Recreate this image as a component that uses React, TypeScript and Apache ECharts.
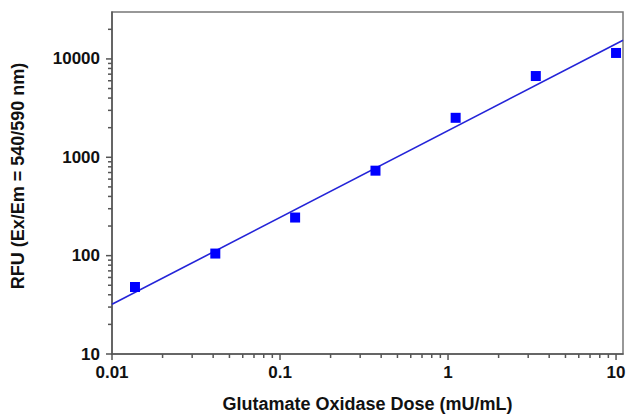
import React, { useEffect, useRef } from "react";
import * as echarts from "echarts";

// Data (3-fold dilutions)
const doses = [0.0137, 0.0412, 0.123, 0.37, 1.11, 3.33, 10];
const rfu = [48, 105, 244, 731, 2520, 6700, 11500];

// Fitted power-law line end points
const fitX = [0.01, 11];
const fitY = [32, 15500];

// Axis ranges and tick labels
const xMin = 0.01;
const xMax = 11;
const yMin = 10;
const yMax = 30000;
const xMajorTicks = [0.01, 0.1, 1, 10];
const xTickLabels = ["0.01", "0.1", "1", "10"];
const yMajorTicks = [10, 100, 1000, 10000];
const yTickLabels = ["10", "100", "1000", "10000"];
const minorMultipliers = [2, 3, 4, 5, 6, 7, 8, 9];

const xMinorTicks: number[] = [];
[0.01, 0.1, 1].forEach((d) => minorMultipliers.forEach((m) => xMinorTicks.push(+(d * m).toPrecision(3))));
const yMinorTicks: number[] = [];
[10, 100, 1000, 10000].forEach((d) => minorMultipliers.forEach((m) => { const v = d * m; if (v < yMax) yMinorTicks.push(v); }));

const AXIS_COLOR = "#555";
const FONT = "'Liberation Sans', Arial, sans-serif";

function labelFor(v: number, ticks: number[], labels: string[]) {
  for (let i = 0; i < ticks.length; i++) {
    if (Math.abs(Math.log10(v) - Math.log10(ticks[i])) < 1e-6) return labels[i];
  }
  return "";
}

// Tick marks as thin rect symbols placed on the axes through the log scales
function xTickSeries(values: number[], len: number) {
  return {
    type: "scatter",
    clip: false,
    silent: true,
    data: values.map((v) => [v, yMin]),
    symbol: "rect",
    symbolSize: [1.5, len],
    symbolOffset: [0, len / 2],
    itemStyle: { color: AXIS_COLOR, opacity: 1 },
    z: 1,
  };
}
function yTickSeries(values: number[], len: number) {
  return {
    type: "scatter",
    clip: false,
    silent: true,
    data: values.map((v) => [xMin, v]),
    symbol: "rect",
    symbolSize: [len, 1.5],
    symbolOffset: [-len / 2, 0],
    itemStyle: { color: AXIS_COLOR, opacity: 1 },
    z: 1,
  };
}

export default function App() {
  const ref = useRef<HTMLDivElement>(null);
  useEffect(() => {
    if (!ref.current) return;
    const chart = echarts.init(ref.current, undefined, { renderer: "svg" });

    chart.setOption({
      animation: false,
      backgroundColor: "#fff",
      grid: {
        left: 112,
        right: 5,
        top: 12,
        bottom: 60,
        containLabel: false,
        outerBoundsMode: "none",
        show: true,
        borderColor: "#777",
        borderWidth: 1.5,
        backgroundColor: "transparent",
      },
      xAxis: {
        type: "log",
        logBase: 10,
        min: xMin,
        max: xMax,
        name: "Glutamate Oxidase Dose (mU/mL)",
        nameLocation: "middle",
        nameGap: 41,
        nameTextStyle: { fontFamily: FONT, fontWeight: "bold", fontSize: 18, color: "#111" },
        axisLine: { lineStyle: { color: AXIS_COLOR, width: 1.5 } },
        axisTick: { show: false },
        splitLine: { show: false },
        axisLabel: {
          margin: 10,
          fontFamily: FONT,
          fontWeight: "bold",
          fontSize: 17,
          color: "#111",
          formatter: (v: number) => labelFor(v, xMajorTicks, xTickLabels),
        },
      },
      yAxis: {
        type: "log",
        logBase: 10,
        min: yMin,
        max: yMax,
        axisLine: { show: true, lineStyle: { color: AXIS_COLOR, width: 1.5 } },
        axisTick: { show: false },
        splitLine: { show: false },
        axisLabel: {
          margin: 12,
          fontFamily: FONT,
          fontWeight: "bold",
          fontSize: 17,
          color: "#111",
          formatter: (v: number) => labelFor(v, yMajorTicks, yTickLabels),
        },
      },
      graphic: [
        {
          type: "text",
          x: 18,
          y: 176,
          rotation: Math.PI / 2,
          style: {
            text: "RFU (Ex/Em = 540/590 nm)",
            fontFamily: FONT,
            fontWeight: "bold",
            fontSize: 18,
            fill: "#111",
            align: "center",
            verticalAlign: "middle",
          },
        },
      ],
      series: [
        xTickSeries(xMajorTicks, 6),
        xTickSeries(xMinorTicks, 4),
        yTickSeries(yMajorTicks, 6),
        yTickSeries(yMinorTicks, 4),
        {
          type: "line",
          data: fitX.map((x, i) => [x, fitY[i]]),
          showSymbol: false,
          lineStyle: { color: "#2424d8", width: 1.6 },
          z: 3,
        },
        {
          type: "scatter",
          data: doses.map((x, i) => [x, rfu[i]]),
          symbol: "rect",
          symbolSize: 10,
          itemStyle: { color: "#0000ff", opacity: 1 },
          z: 4,
        },
      ],
    });
    return () => chart.dispose();
  }, []);

  return (
    <div
      ref={ref}
      style={{ position: "fixed", left: 0, top: 0, width: 628, height: 414, background: "#fff" }}
    />
  );
}
